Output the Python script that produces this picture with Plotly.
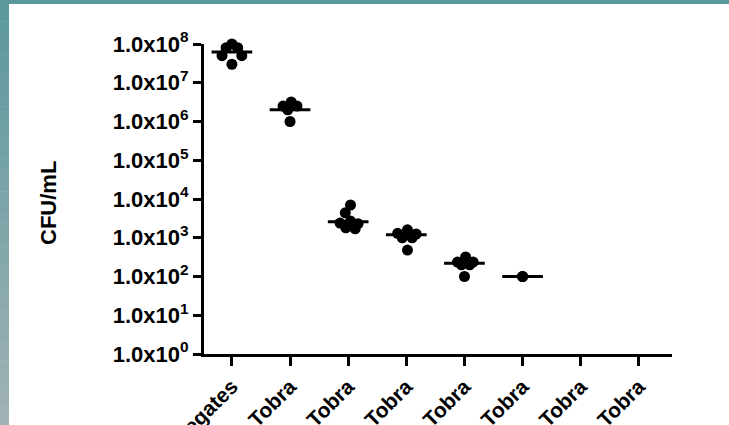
import plotly.graph_objects as go
import numpy as np

# ---- data ----
categories = ["Aggregates", "Tobra", "Tobra", "Tobra", "Tobra", "Tobra", "Tobra", "Tobra"]
cat_pos = list(range(len(categories)))

g0_vals = [1.0e8, 8.0e7, 8.0e7, 5.0e7, 5.0e7, 3.0e7]
g1_vals = [3.2e6, 2.5e6, 2.5e6, 2.0e6, 1.0e6]
g2_vals = [7.0e3, 4.4e3, 2.7e3, 2.4e3, 2.3e3, 1.8e3, 1.7e3]
g3_vals = [1.6e3, 1.3e3, 1.25e3, 1.0e3, 1.0e3, 4.8e2]
g4_vals = [3.2e2, 2.35e2, 2.35e2, 2.0e2, 2.0e2, 1.0e2]
g5_vals = [1.0e2, 1.0e2]
group_values = [g0_vals, g1_vals, g2_vals, g3_vals, g4_vals, g5_vals, [], []]

center_values = [6.2e7, 2.0e6, 2.6e3, 1.2e3, 2.2e2, 1.0e2]

ytick_exps = [0, 1, 2, 3, 4, 5, 6, 7, 8]
ytick_labels = ["1.0x10<sup>%d</sup>" % e for e in ytick_exps]
y_title = "CFU/mL"

# ---- horizontal spread of dots (styling, in category units) ----
jitter = [
    [0.0, -0.10, 0.10, -0.17, 0.17, 0.0],
    [0.02, -0.12, 0.12, -0.04, 0.0],
    [0.04, -0.05, 0.04, -0.14, 0.17, -0.04, 0.12],
    [0.02, -0.15, 0.17, -0.07, 0.10, 0.02],
    [0.02, -0.12, 0.15, -0.05, 0.09, 0.0],
    [0.0, 0.0],
    [], [],
]

FONT = "Liberation Sans, Arial, sans-serif"

fig = go.Figure()

xs, ys = [], []
for i, vals in enumerate(group_values):
    for v, j in zip(vals, jitter[i]):
        xs.append(cat_pos[i] + j)
        ys.append(v)
fig.add_trace(go.Scatter(x=xs, y=ys, mode="markers",
                         marker=dict(color="black", size=11, line=dict(width=0)),
                         cliponaxis=False, showlegend=False, hoverinfo="skip"))

lx, ly = [], []
for i, c in enumerate(center_values):
    lx += [cat_pos[i] - 0.35, cat_pos[i] + 0.35, None]
    ly += [c, c, None]
fig.add_trace(go.Scatter(x=lx, y=ly, mode="lines",
                         line=dict(color="black", width=3),
                         cliponaxis=False, showlegend=False, hoverinfo="skip"))

# decorative frame (teal top bar + gradient left bar)
W, H = 729, 425
ml, mr, mt, mb = 204, 57, 44, 71
pw, ph = W - ml - mr, H - mt - mb
def px2paper_x(px):
    return (px - ml) / pw
def px2paper_y(py):
    return (H - mb - py) / ph

shapes = []
c_top = np.array([91, 152, 157])
c_bot = np.array([160, 178, 181])
n = 40
for k in range(n):
    t = k / (n - 1)
    c = (c_top * (1 - t) + c_bot * t).astype(int)
    y0p = (H) * k / n
    y1p = (H) * (k + 1) / n + 0.5
    shapes.append(dict(type="rect", xref="paper", yref="paper",
                       x0=px2paper_x(-1), x1=px2paper_x(9),
                       y0=px2paper_y(y1p), y1=px2paper_y(y0p),
                       fillcolor="rgb(%d,%d,%d)" % tuple(c), line=dict(width=0), layer="below"))
shapes.append(dict(type="rect", xref="paper", yref="paper",
                   x0=px2paper_x(-1), x1=px2paper_x(W + 1), y0=px2paper_y(-1), y1=px2paper_y(4),
                   fillcolor="#5b989d", line=dict(width=0), layer="below"))

fig.add_annotation(text=y_title, xref="paper", yref="paper",
                   x=px2paper_x(48), y=px2paper_y(203), textangle=-90,
                   showarrow=False, xanchor="center", yanchor="middle",
                   font=dict(family=FONT, size=22, weight="bold", color="black"))

fig.update_layout(
    width=W, height=H,
    margin=dict(l=ml, r=mr, t=mt, b=mb, pad=0),
    paper_bgcolor="white", plot_bgcolor="white",
    font=dict(family=FONT, color="black"),
    shapes=shapes,
    xaxis=dict(range=[-0.48, 7.57], tickvals=cat_pos, ticktext=categories,
               tickangle=-45, showline=True, linewidth=3, linecolor="black",
               ticks="outside", ticklen=9, tickwidth=3, tickcolor="black",
               showgrid=False, zeroline=False, automargin=False,
               tickfont=dict(family=FONT, size=21, weight="bold", color="black")),
    yaxis=dict(type="log", range=[0, 8], tickvals=[10 ** e for e in ytick_exps],
               ticktext=ytick_labels, showline=True, linewidth=3, linecolor="black",
               ticks="outside", ticklen=8, tickwidth=3, tickcolor="black",
               showgrid=False, zeroline=False, automargin=False,
               tickfont=dict(family=FONT, size=22, weight="bold", color="black")),
)

fig.write_html("out.html", config={"displayModeBar": False},
               post_script="document.body.style.margin='0';document.body.style.overflow='hidden';window.scrollTo(0,0);")
